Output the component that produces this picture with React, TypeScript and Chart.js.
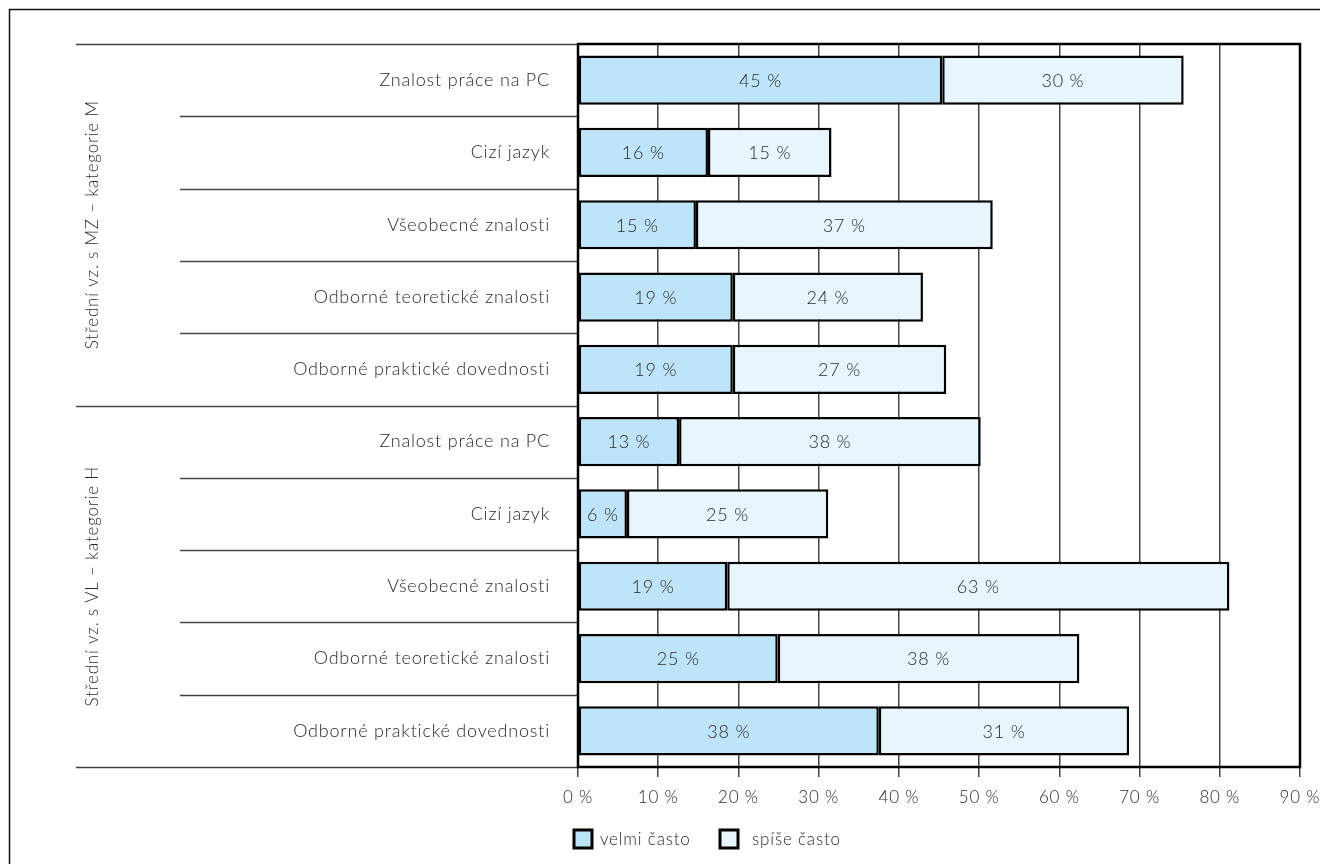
import React, { useEffect, useRef } from 'react';
import { Chart, registerables } from 'chart.js';

Chart.register(...registerables);

const categories = [
  'Znalost práce na PC',
  'Cizí jazyk',
  'Všeobecné znalosti',
  'Odborné teoretické znalosti',
  'Odborné praktické dovednosti',
  'Znalost práce na PC',
  'Cizí jazyk',
  'Všeobecné znalosti',
  'Odborné teoretické znalosti',
  'Odborné praktické dovednosti',
];
const groupNames = ['Střední vz. s MZ – kategorie M', 'Střední vz. s VL – kategorie H'];
const groupSizes = [5, 5];
const velmiCasto = [45.4, 16.2, 14.7, 19.3, 19.3, 12.6, 6.1, 18.6, 24.9, 37.5];
const spiseCasto = [30.1, 15.4, 37.0, 23.7, 26.6, 37.6, 25.1, 62.6, 37.6, 31.2];
const valueLabelsVelmi = [45, 16, 15, 19, 19, 13, 6, 19, 25, 38];
const valueLabelsSpise = [30, 15, 37, 24, 27, 38, 25, 63, 38, 31];
const seriesNames = ['velmi často', 'spíše často'];
const xMin = 0;
const xMax = 90;
const xStep = 10;

const FONT = 'Lato, "Open Sans", sans-serif';
const FSIZE = 17;
const FSIZE_L = 18;
const TEXT = '#2a2a2a';
const COLOR_VELMI = '#bde4f8';
const COLOR_SPISE = '#e8f5fd';

const customPlugin = {
  id: 'customDecor',
  beforeDraw(chart: any) {
    const ctx = chart.ctx;
    ctx.letterSpacing = '0.8px';
    ctx.save();
    ctx.strokeStyle = '#111';
    ctx.lineWidth = 1.5;
    ctx.beginPath();
    ctx.moveTo(9.5, 864);
    ctx.lineTo(9.5, 9.5);
    ctx.lineTo(1320, 9.5);
    ctx.stroke();
    ctx.restore();
  },
  afterDatasetsDraw(chart: any) {
    const ctx = chart.ctx;
    const ca = chart.chartArea;
    const y = chart.scales.y;
    ctx.save();
    // value labels
    ctx.font = `300 ${FSIZE_L}px ${FONT}`;
    ctx.fillStyle = TEXT;
    ctx.textAlign = 'center';
    ctx.textBaseline = 'middle';
    const labelSets = [valueLabelsVelmi, valueLabelsSpise];
    chart.data.datasets.forEach((ds: any, di: number) => {
      const meta = chart.getDatasetMeta(di);
      meta.data.forEach((el: any, i: number) => {
        const p = el.getProps(['x', 'y', 'base'], true);
        ctx.fillText(labelSets[di][i] + ' %', (p.x + p.base) / 2, p.y + 1);
      });
    });

    // left side separators
    const n = categories.length;
    const bounds: number[] = [];
    for (let i = 0; i <= n; i++) {
      if (i === 0) bounds.push(ca.top);
      else if (i === n) bounds.push(ca.bottom);
      else bounds.push((y.getPixelForValue(i - 1) + y.getPixelForValue(i)) / 2);
    }
    const groupStarts: number[] = [0];
    groupSizes.forEach((s, gi) => groupStarts.push(groupStarts[gi] + s));
    ctx.strokeStyle = '#444';
    ctx.lineWidth = 1.5;
    bounds.forEach((b, i) => {
      const isGroup = groupStarts.includes(i);
      ctx.beginPath();
      ctx.moveTo(isGroup ? 76 : 180, Math.round(b) + 0.5);
      ctx.lineTo(ca.left, Math.round(b) + 0.5);
      ctx.stroke();
    });

    // group labels
    ctx.font = `300 ${FSIZE}px ${FONT}`;
    ctx.fillStyle = TEXT;
    groupNames.forEach((g, gi) => {
      const y0 = bounds[groupStarts[gi]];
      const y1 = bounds[groupStarts[gi + 1]];
      ctx.save();
      ctx.translate(93, (y0 + y1) / 2);
      ctx.rotate(-Math.PI / 2);
      ctx.textAlign = 'center';
      ctx.textBaseline = 'middle';
      ctx.fillText(g, 0, 0);
      ctx.restore();
    });

    // chart area border
    ctx.strokeStyle = '#000';
    ctx.lineWidth = 2.5;
    ctx.strokeRect(ca.left, ca.top, ca.right - ca.left, ca.bottom - ca.top);

    // legend
    const colors = [COLOR_VELMI, COLOR_SPISE];
    const legendX = [574, 720];
    const textX = [600, 752];
    ctx.font = `300 ${FSIZE}px ${FONT}`;
    ctx.textAlign = 'left';
    ctx.textBaseline = 'middle';
    seriesNames.forEach((s, i) => {
      ctx.fillStyle = colors[i];
      ctx.fillRect(legendX[i], 830, 18, 18);
      ctx.strokeStyle = '#000';
      ctx.lineWidth = 3;
      ctx.strokeRect(legendX[i], 830, 18, 18);
      ctx.fillStyle = TEXT;
      ctx.fillText(s, textX[i], 840);
    });
    ctx.restore();
  },
};

export default function App() {
  const ref = useRef<HTMLCanvasElement | null>(null);
  useEffect(() => {
    if (!ref.current) return;
    const chart = new Chart(ref.current, {
      type: 'bar',
      data: {
        labels: categories,
        datasets: [
          {
            label: seriesNames[0],
            data: velmiCasto,
            backgroundColor: COLOR_VELMI,
            borderColor: '#000',
            borderWidth: 2.5,
            borderSkipped: false,
            barPercentage: 0.68,
            categoryPercentage: 1,
          },
          {
            label: seriesNames[1],
            data: spiseCasto,
            backgroundColor: COLOR_SPISE,
            borderColor: '#000',
            borderWidth: 2.5,
            borderSkipped: false,
            barPercentage: 0.68,
            categoryPercentage: 1,
          },
        ],
      },
      options: {
        indexAxis: 'y',
        animation: false,
        responsive: false,
        maintainAspectRatio: false,
        layout: { padding: { top: 44, right: 20, left: 0, bottom: 0 } },
        plugins: {
          legend: { display: false },
          tooltip: { enabled: false },
        },
        scales: {
          x: {
            stacked: true,
            min: xMin,
            max: xMax,
            afterFit: (s: any) => {
              s.height = 97;
              s.paddingLeft = 0;
              s.paddingRight = 0;
            },
            ticks: {
              stepSize: xStep,
              padding: 10,
              color: TEXT,
              maxRotation: 0,
              font: { family: FONT, size: FSIZE, weight: '300' as any },
              callback: (v: any) => v + ' %',
            },
            grid: {
              color: '#444',
              lineWidth: 1.5,
              tickLength: 10,
              tickColor: '#444',
              drawTicks: true,
            },
            border: { display: false },
          },
          y: {
            stacked: true,
            afterFit: (s: any) => {
              s.width = 578;
              s.paddingTop = 0;
              s.paddingBottom = 0;
            },
            ticks: {
              padding: 28,
              color: TEXT,
              font: { family: FONT, size: FSIZE_L, weight: '300' as any },
            },
            grid: { display: false, drawTicks: false },
            border: { display: false },
          },
        },
      },
      plugins: [customPlugin],
    });
    return () => chart.destroy();
  }, []);
  return (
    <div style={{ position: 'absolute', left: 0, top: 0, width: 1320, height: 864, background: '#fff' }}>
      <canvas ref={ref} width={1320} height={864} style={{ width: 1320, height: 864 }} />
    </div>
  );
}
